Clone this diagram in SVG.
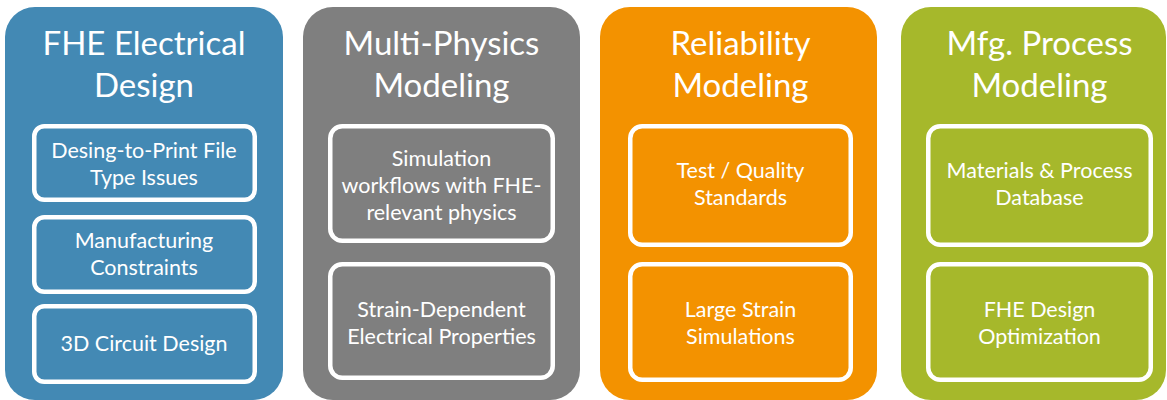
<svg xmlns="http://www.w3.org/2000/svg" width="1167" height="400" viewBox="0 0 1167 400">
<style>
.panel{stroke:none}
.box{fill:none;stroke:#ffffff;stroke-width:4.5}
.title{font-family:Lato,"Open Sans","Liberation Sans",sans-serif;font-size:33px;fill:#ffffff;text-anchor:middle}
.lbl{font-family:Lato,"Open Sans","Liberation Sans",sans-serif;font-size:21.5px;fill:#ffffff;text-anchor:middle}
</style>
<rect width="1167" height="400" fill="#ffffff"/>
<g id="fhe-electrical-design">
<rect class="panel" x="5" y="7" width="278" height="393" rx="30" fill="#4389B4"/>
<text class="title" x="144" y="55">FHE Electrical</text>
<text class="title" x="144" y="97">Design</text>
<rect class="box" x="34.25" y="126.25" width="220.5" height="73.5" rx="10"/>
<text class="lbl" x="144" y="158">Desing-to-Print File</text>
<text class="lbl" x="144" y="185">Type Issues</text>
<rect class="box" x="34.25" y="217.25" width="220.5" height="74.5" rx="10"/>
<text class="lbl" x="144" y="248">Manufacturing</text>
<text class="lbl" x="144" y="275">Constraints</text>
<rect class="box" x="34.25" y="306.25" width="220.5" height="75.5" rx="10"/>
<text class="lbl" x="144" y="351">3D Circuit Design</text>
</g>
<g id="multi-physics-modeling">
<rect class="panel" x="303" y="7" width="277" height="393" rx="30" fill="#7F7F7F"/>
<text class="title" x="441.5" y="55">Multi-Physics</text>
<text class="title" x="441.5" y="97">Modeling</text>
<rect class="box" x="330.25" y="126.25" width="222.5" height="114.5" rx="12"/>
<text class="lbl" x="441.5" y="166">Simulation</text>
<text class="lbl" x="441.5" y="193">workflows with FHE-</text>
<text class="lbl" x="441.5" y="220">relevant physics</text>
<rect class="box" x="330.25" y="264.25" width="222.5" height="113.5" rx="12"/>
<text class="lbl" x="441.5" y="317">Strain-Dependent</text>
<text class="lbl" x="441.5" y="344">Electrical Properties</text>
</g>
<g id="reliability-modeling">
<rect class="panel" x="600" y="7" width="277" height="393" rx="30" fill="#F39200"/>
<text class="title" x="740.5" y="55">Reliability</text>
<text class="title" x="740.5" y="97">Modeling</text>
<rect class="box" x="630.25" y="126.25" width="220.5" height="118.5" rx="12"/>
<text class="lbl" x="740.5" y="178">Test / Quality</text>
<text class="lbl" x="740.5" y="205">Standards</text>
<rect class="box" x="630.25" y="264.25" width="220.5" height="115.5" rx="12"/>
<text class="lbl" x="740.5" y="317">Large Strain</text>
<text class="lbl" x="740.5" y="344">Simulations</text>
</g>
<g id="mfg-process-modeling">
<rect class="panel" x="901" y="7" width="265" height="393" rx="30" fill="#A6B82B"/>
<text class="title" x="1039.5" y="55">Mfg. Process</text>
<text class="title" x="1039.5" y="97">Modeling</text>
<rect class="box" x="928.25" y="126.25" width="222.5" height="118.5" rx="12"/>
<text class="lbl" x="1039.5" y="178">Materials &amp; Process</text>
<text class="lbl" x="1039.5" y="205">Database</text>
<rect class="box" x="928.25" y="264.25" width="222.5" height="115.5" rx="12"/>
<text class="lbl" x="1039.5" y="317">FHE Design</text>
<text class="lbl" x="1039.5" y="344">Optimization</text>
</g>
<g id="connectors"/>
</svg>
